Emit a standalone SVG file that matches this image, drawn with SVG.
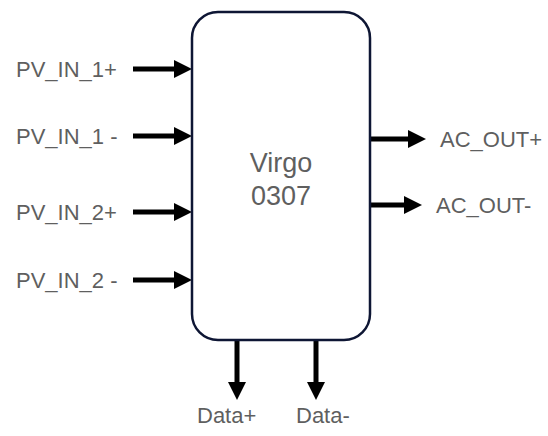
<svg xmlns="http://www.w3.org/2000/svg" width="548" height="436" viewBox="0 0 548 436">
<style>
.lbl{font-family:"Liberation Sans",Arial,sans-serif;font-size:22px;fill:#5f5f5f}
.ctr{font-family:"Liberation Sans",Arial,sans-serif;font-size:27px;fill:#5f5f5f;text-anchor:middle}
.conn{stroke:#000;stroke-width:5;fill:none}
.head{fill:#000}
</style>
<rect width="548" height="436" fill="#fff"/>
<g id="connectors">
<line class="conn" x1="133" y1="69" x2="176" y2="69"/><polygon class="head" points="174,60 192,69 174,78"/>
<line class="conn" x1="133" y1="136" x2="176" y2="136"/><polygon class="head" points="174,127 192,136 174,145"/>
<line class="conn" x1="133" y1="212" x2="176" y2="212"/><polygon class="head" points="174,203 192,212 174,221"/>
<line class="conn" x1="133" y1="280" x2="176" y2="280"/><polygon class="head" points="174,271 192,280 174,289"/>
<line class="conn" x1="370" y1="139" x2="410" y2="139"/><polygon class="head" points="408,130 426,139 408,148"/>
<line class="conn" x1="370" y1="205" x2="406" y2="205"/><polygon class="head" points="404,196 422,205 404,214"/>
<line class="conn" x1="237" y1="340" x2="237" y2="384"/><polygon class="head" points="228,382 237,400 246,382"/>
<line class="conn" x1="316" y1="340" x2="316" y2="384"/><polygon class="head" points="307,382 316,400 325,382"/>
</g>
<g id="virgo">
<rect x="192" y="12" width="178" height="328" rx="26" fill="#fff" stroke="#0e1634" stroke-width="2.5"/>
<text class="ctr" x="281" y="172">Virgo</text>
<text class="ctr" x="281" y="205">0307</text>
</g>
<g id="labels">
<text class="lbl" x="16" y="77">PV_IN_1+</text>
<text class="lbl" x="16" y="144">PV_IN_1 -</text>
<text class="lbl" x="16" y="220">PV_IN_2+</text>
<text class="lbl" x="16" y="288">PV_IN_2 -</text>
<text class="lbl" x="440" y="147">AC_OUT+</text>
<text class="lbl" x="436" y="213">AC_OUT-</text>
<text class="lbl" x="197" y="423">Data+</text>
<text class="lbl" x="296" y="423">Data-</text>
</g>
</svg>
